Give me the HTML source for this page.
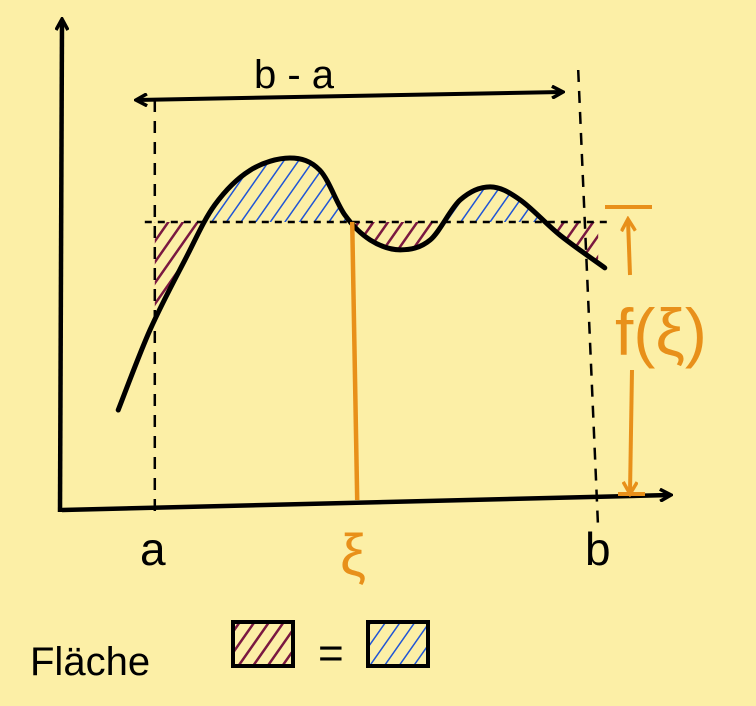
<!DOCTYPE html>
<html><head><meta charset="utf-8"><style>
html,body{margin:0;padding:0;background:#fcefa6;}
svg{display:block;}
text{font-family:"Liberation Sans",sans-serif;}
</style></head><body>
<svg id="chart" width="756" height="706" viewBox="0 0 756 706" xmlns="http://www.w3.org/2000/svg">
<defs>
<pattern id="hatchPurple" width="12" height="12" patternUnits="userSpaceOnUse" patternTransform="rotate(35)">
<rect width="12" height="12" fill="none"/><line x1="0" y1="0" x2="0" y2="12" stroke="#7a1840" stroke-width="5"/></pattern>
<pattern id="hatchBlue" width="12" height="12" patternUnits="userSpaceOnUse" patternTransform="rotate(35)">
<line x1="0" y1="0" x2="0" y2="12" stroke="#1f55d6" stroke-width="3"/></pattern>
<marker id="arrB" markerWidth="14" markerHeight="14" refX="11" refY="7" orient="auto-start-reverse" markerUnits="userSpaceOnUse"><path d="M1,1 L12,7 L1,13" fill="none" stroke="#000" stroke-width="3.5"/></marker>
<marker id="arrO" markerWidth="16" markerHeight="16" refX="12" refY="8" orient="auto-start-reverse" markerUnits="userSpaceOnUse"><path d="M1,1 L13,8 L1,15" fill="none" stroke="#e8901a" stroke-width="3.5"/></marker>
</defs>
<rect width="756" height="706" fill="#fcefa6"/>
<g id="plot"></g>
<text x="254" y="88" font-size="40">b - a</text>
<text x="140" y="565" font-size="46">a</text>
<text x="585" y="565" font-size="46">b</text>
<text x="340" y="575" font-size="58" fill="#e8901a">ξ</text>
<text x="615" y="355" font-size="66" fill="#e8901a">f(ξ)</text>
<text x="30" y="675" font-size="40">Fläche</text>
<rect x="233" y="622" width="60" height="44" fill="url(#hatchPurple)" stroke="#000" stroke-width="4"/>
<text x="318" y="668" font-size="44">=</text>
<rect x="368" y="622" width="60" height="44" fill="url(#hatchBlue)" stroke="#000" stroke-width="4"/>
</svg>
<script>
const curveX=[0.97,1.5,2.08,2.58,3.17,3.83,4.33,4.75,5.17,5.67,6.17,6.67,7.17,7.67,8.33,9.08];
const curveY=[2.11,3.89,5.44,6.67,7.44,7.71,7.44,6.44,5.89,5.67,5.89,6.78,7.07,6.78,6.0,5.27];
const meanValue=[6.29];
const bounds=[1.58,8.97];
const xiValue=[4.87];
const sx=v=>60+v*60, sy=v=>505-v*45;
const NS="http://www.w3.org/2000/svg";
const g=document.getElementById('plot');
function mk(tag,attrs){const e=document.createElementNS(NS,tag);for(const k in attrs)e.setAttribute(k,attrs[k]);g.appendChild(e);return e;}
const pts=curveX.map((x,i)=>[sx(x),sy(curveY[i])]);
function smooth(p){let d=`M${p[0][0]},${p[0][1]}`;for(let i=0;i<p.length-1;i++){const p0=p[i-1]||p[i],p1=p[i],p2=p[i+1],p3=p[i+2]||p2;
d+=` C${p1[0]+(p2[0]-p0[0])/6},${p1[1]+(p2[1]-p0[1])/6} ${p2[0]-(p3[0]-p1[0])/6},${p2[1]-(p3[1]-p1[1])/6} ${p2[0]},${p2[1]}`;}return d;}
const cd=smooth(pts);
const my=sy(meanValue[0]), ax=sx(bounds[0]), bx=sx(bounds[1]), last=pts[pts.length-1], first=pts[0];
const defs=document.querySelector('defs');
function clip(id,x,y,w,h){const c=document.createElementNS(NS,'clipPath');c.setAttribute('id',id);const r=document.createElementNS(NS,'rect');r.setAttribute('x',x);r.setAttribute('y',y);r.setAttribute('width',w);r.setAttribute('height',h);c.appendChild(r);defs.appendChild(c);}
clip('cAbove',ax,0,bx-ax,my);clip('cBelow',ax,my,bx-ax,706-my);
let e=mk('path',{d:cd+` L${last[0]},700 L${first[0]},700 Z`,fill:'url(#hatchBlue)','clip-path':'url(#cAbove)'});


e=mk('path',{d:cd+` L${last[0]},0 L${first[0]},0 Z`,fill:'url(#hatchPurple)','clip-path':'url(#cBelow)'});


e=mk('line',{x1:ax-10,y1:my,x2:bx+12,y2:my,stroke:'#000','stroke-width':2.5,'stroke-dasharray':'7 6'});


e=mk('line',{x1:ax,y1:100,x2:ax,y2:515,stroke:'#000','stroke-width':2.5,'stroke-dasharray':'12 9'});


e=mk('line',{x1:bx-20,y1:70,x2:bx,y2:530,stroke:'#000','stroke-width':2.5,'stroke-dasharray':'12 9'});


e=mk('path',{d:`M60,512 L62,20`,stroke:'#000','stroke-width':4.5,fill:'none','marker-end':'url(#arrB)'});


e=mk('path',{d:`M62,510 L670,495`,stroke:'#000','stroke-width':4.5,fill:'none','marker-end':'url(#arrB)'});


e=mk('path',{d:`M137,100 L562,92`,stroke:'#000','stroke-width':4,fill:'none','marker-start':'url(#arrB)','marker-end':'url(#arrB)'});


e=mk('path',{d:cd,stroke:'#000','stroke-width':5,fill:'none','stroke-linecap':'round'});


const xx=sx(xiValue[0]);
e=mk('line',{x1:xx,y1:my,x2:xx+5,y2:500,stroke:'#e8901a','stroke-width':4.5});


e=mk('line',{x1:605,y1:207,x2:652,y2:207,stroke:'#e8901a','stroke-width':4});


e=mk('path',{d:`M630,275 L628,220`,stroke:'#e8901a','stroke-width':4,fill:'none','marker-end':'url(#arrO)'});


e=mk('path',{d:`M632,370 L630,493`,stroke:'#e8901a','stroke-width':4,fill:'none','marker-end':'url(#arrO)'});


e=mk('line',{x1:618,y1:494,x2:645,y2:494,stroke:'#e8901a','stroke-width':4});


</script>
</body></html>
